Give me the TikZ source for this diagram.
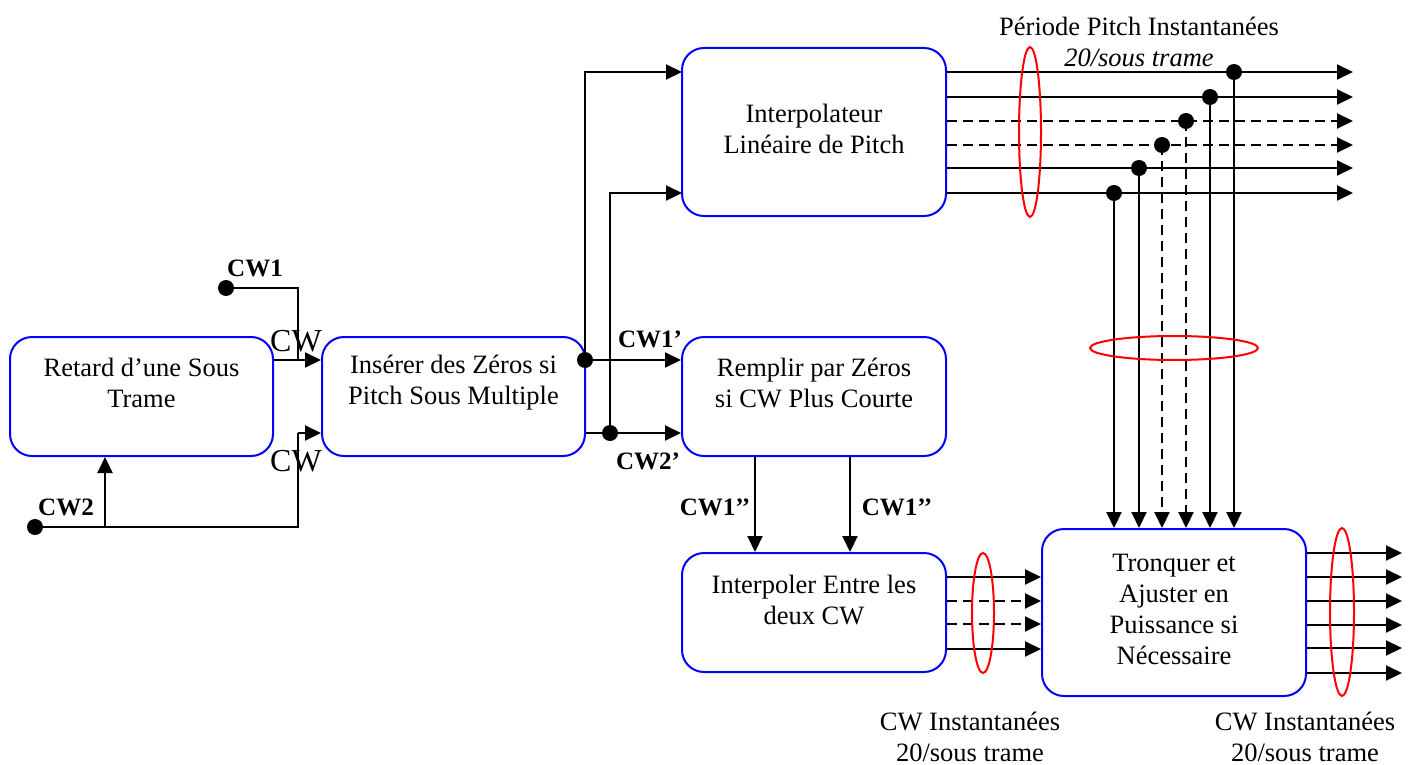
\documentclass[tikz,border=0pt]{standalone}
\usepackage{fontspec}
\setmainfont{Liberation Serif}
\usetikzlibrary{arrows.meta,shapes.geometric}
\begin{document}
\begin{tikzpicture}[x=1pt,y=-1pt,
  blk/.style={draw=blue, line width=2pt, rounded corners=22pt, inner sep=0pt},
  wire/.style={line width=2pt, draw=black},
  arr/.style={wire, -{Triangle[length=16pt,width=15pt]}},
  dsh/.style={dash pattern=on 10pt off 6pt},
  dot/.style={circle, fill=black, inner sep=0pt, minimum size=16pt},
  ring/.style={draw=red, line width=2pt, ellipse, inner sep=0pt},
  txt/.style={font=\fontsize{26.5}{31}\selectfont, align=center, inner sep=0pt},
  lbl/.style={font=\fontsize{25}{30}\selectfont\bfseries, inner sep=0pt},
  cwlbl/.style={font=\fontsize{32}{36}\selectfont, inner sep=0pt}]
\useasboundingbox (0,0) rectangle (1416,765);

% boxes
\node[blk, minimum width=263pt, minimum height=119pt] (b1) at (141.5,396.5) {};
\node[blk, minimum width=263pt, minimum height=119pt] (b2) at (453.5,396.5) {};
\node[blk, minimum width=264pt, minimum height=168pt] (b3) at (814,132) {};
\node[blk, minimum width=264pt, minimum height=119pt] (b4) at (814,396.5) {};
\node[blk, minimum width=264pt, minimum height=119pt] (b5) at (814,612.5) {};
\node[blk, minimum width=264pt, minimum height=167pt] (b6) at (1174,612.5) {};

\node[txt] (t1) at (141.5,383) {Retard d’une Sous\\Trame};
\node[txt] (t2) at (453.5,383) {Insérer des Zéros si\\Pitch Sous Multiple};
\node[txt] (t3) at (814,129) {Interpolateur\\Linéaire de Pitch};
\node[txt] (t4) at (814,383) {Remplir par Zéros\\si CW Plus Courte};
\node[txt] (t5) at (814,600) {Interpoler Entre les\\deux CW};
\node[txt] (t6) at (1174,609) {Tronquer et\\Ajuster en\\Puissance si\\Nécessaire};

% left inputs
\node[dot] (cw1) at (226,288) {};
\node[dot] (cw2) at (35,527) {};
\node[lbl] (cw1l) at (255,268) {CW1};
\node[lbl] (cw2l) at (66,507) {CW2};
\coordinate (k1) at (298,360);
\coordinate (k2) at (298,433);
\coordinate (k3) at (105,527);
\draw[wire] (cw1) -| (k1);
\draw[arr] (b1.east |- k1) -- (k1 -| b2.west);
\draw[wire] (cw2) -| (k2);
\draw[arr] (k2) -- (k2 -| b2.west);
\draw[arr] (k3) -- (k3 |- b1.south);
\node[cwlbl] (cwa) at (296,341) {CW};
\node[cwlbl] (cwb) at (296,461) {CW};

% outputs of b2
\node[dot] (d1) at (585,360) {};
\node[dot] (d2) at (610,433) {};
\coordinate (i1) at (682,72);
\coordinate (i2) at (682,193);
\draw[arr] (d1) -- (d1 -| b4.west);
\draw[arr] (d1.center) |- (i1);
\draw[arr] (b2.east |- d2) -- (d2 -| b4.west);
\draw[arr] (d2.center) |- (i2);
\node[lbl] (cw1p) at (650,339) {CW1’};
\node[lbl] (cw2p) at (648,461) {CW2’};

% b4 to b5
\coordinate (p1) at (755,0);
\coordinate (p2) at (850,0);
\draw[arr] (p1 |- b4.south) -- (p1 |- b5.north);
\draw[arr] (p2 |- b4.south) -- (p2 |- b5.north);
\node[lbl] (cw1a) at (715,507) {CW1’’};
\node[lbl] (cw1b) at (897,507) {CW1’’};

% b5 to b6
\foreach \yy/\st in {577/solid,601/dsh,624/dsh,649/solid}{
  \coordinate (q) at (0,\yy);
  \draw[arr,\st] (q -| b5.east) -- (q -| b6.west);
}

% b3 outputs
\foreach \i/\yy/\xx/\st in {1/72/1234/solid,2/97/1210/solid,3/121/1186/dsh,4/145/1162/dsh,5/168/1139/solid,6/193/1114/solid}{
  \coordinate (e\i) at (1353,\yy);
  \node[dot] (h\i) at (\xx,\yy) {};
  \draw[arr,\st] (e\i -| b3.east) -- (e\i);
  \draw[arr,\st] (h\i.center) -- (h\i |- b6.north);
}

% b6 outputs
\foreach \yy in {553,577,601,625,648,673}{
  \coordinate (o) at (1402,\yy);
  \draw[arr] (o -| b6.east) -- (o);
}

% red rings
\node[ring, minimum width=22pt, minimum height=170pt] (r1) at (1030,132) {};
\node[ring, minimum width=168pt, minimum height=24pt] (r2) at (1174,348) {};
\node[ring, minimum width=22pt, minimum height=120pt] (r3) at (983,613) {};
\node[ring, minimum width=24pt, minimum height=168pt] (r4) at (1342,612) {};

% captions
\node[txt] (c1) at (1139,42) {Période Pitch Instantanées\\\textit{20/sous trame}};
\node[txt] (c2) at (970,737) {CW Instantanées\\20/sous trame};
\node[txt] (c3) at (1305,737) {CW Instantanées\\20/sous trame};
\end{tikzpicture}
\end{document}
